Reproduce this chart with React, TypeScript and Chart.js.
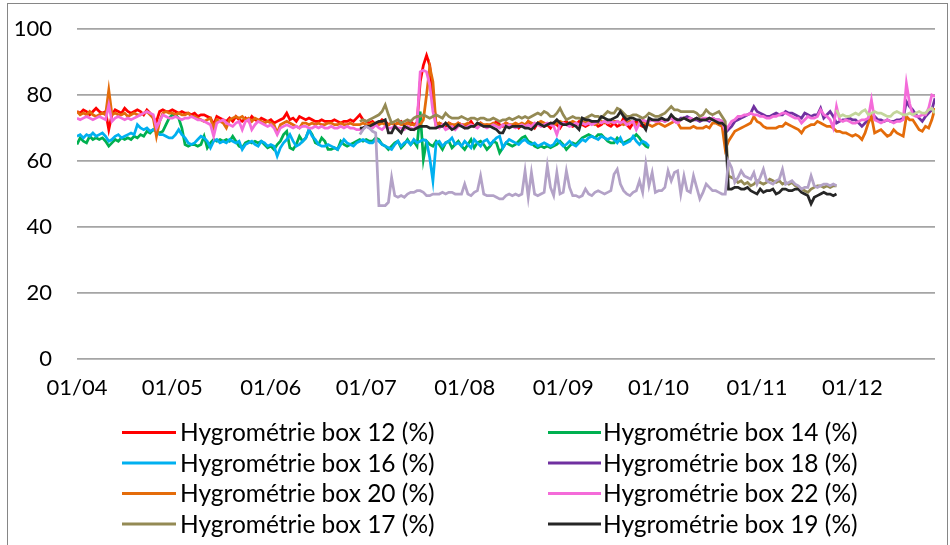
import React, { useEffect, useRef } from 'react';
import { Chart, registerables } from 'chart.js';

Chart.register(...registerables);

// x axis: days counted from 01/04
const xTickDays = [0, 30, 61, 91, 122, 153, 183, 214, 244];
const xTickLabels = ['01/04', '01/05', '01/06', '01/07', '01/08', '01/09', '01/10', '01/11', '01/12'];
const xMaxDay = 270;
const yTickValues = [0, 20, 40, 60, 80, 100];

const seriesLabels = [
  'Hygrométrie box 12 (%)',
  'Hygrométrie box 14 (%)',
  'Hygrométrie box 16 (%)',
  'Hygrométrie box 18 (%)',
  'Hygrométrie box 20 (%)',
  'Hygrométrie box 22 (%)',
  'Hygrométrie box 17 (%)',
  'Hygrométrie box 19 (%)',
  'Hygrométrie box 21 (%)',
  'Hygrométrie box 23 (%)',
];
const legendVisibleCount = 8;

const box12Start = 0;
const box12 = [
  75, 74.5, 75.5, 75, 74, 75, 76, 75, 74.5, 75,
  69.5, 74, 75.5, 75, 74.5, 76, 75, 74.5, 75, 75.5,
  75, 74, 75.5, 74.5, 73, 72, 75, 75.5, 75, 75,
  75.5, 75, 74.5, 75, 74.5, 74.5, 74, 74.5, 73.5, 74,
  74, 73.5, 73, 71, 73.5, 73, 72.5, 72, 73, 72,
  73.5, 72.5, 72, 73, 72, 73.5, 72.5, 72, 73, 72.5,
  72, 72.5, 71.5, 72, 72.5, 73, 74.5, 72.5, 73, 72,
  73.5, 73, 72.5, 73, 72.5, 72, 72, 72.5, 72, 72,
  72, 72.5, 72, 71.5, 72, 72, 72.5, 72, 73, 74,
  72.5, 72, 71.5, 72, 71, 71.5, 72.5, 72, 71, 71.5,
  71, 71.5, 72, 71, 71.5, 72, 71, 71.5, 84, 89,
  92, 89, 80, 71, 71.5, 71, 70.5, 71.5, 71, 70,
  71.5, 71, 70.5, 71, 72, 70.5, 71, 71.5, 70.5, 71,
  70.5, 71, 72, 71, 70.5, 71.5, 71, 70.5, 71, 70,
  71, 70.5, 72, 71, 70, 71.5, 71, 70.5, 71, 70,
  71.5, 71, 70, 71.5, 72, 71, 70.5, 71, 72, 71,
  70.5, 71, 72, 71.5, 70.5, 71, 72, 71, 70.5, 71.5,
  70.5, 71, 73, 71, 70, 71.5, 72, 71, 70.5, 71,
];

const box14Start = 0;
const box14 = [
  65, 67, 66, 65.5, 67.5, 66.5, 67, 66.5, 67, 66,
  64.5, 65.5, 66.5, 66, 67, 66.5, 67, 66.5, 67.5, 67,
  68, 67.5, 69, 68.5, 69.5, 69, 68.5, 69, 71, 73,
  74, 74, 73, 70, 65, 64.5, 65, 65, 64.5, 65,
  67.5, 64, 65.5, 66.5, 66, 66.5, 66, 66.5, 66, 67.5,
  66, 64.5, 64, 65.5, 66, 65.5, 66, 65.5, 66, 65,
  64, 64.5, 63.5, 65, 66, 68, 69, 64, 63.5, 65,
  67.5, 66, 67, 69.5, 68, 65.5, 65, 67, 66, 63.5,
  63.5, 64, 63.5, 66, 65, 64.5, 65, 65.5, 66, 66.5,
  66, 66.5, 66, 66, 67, 66.5, 65, 64.5, 63.5, 64.5,
  65.5, 66, 64, 65, 66.5, 65, 66, 64.5, 75, 60.5,
  66, 65, 64.5, 66, 65, 63.5, 65.5, 66, 64, 65,
  66, 64.5, 63.5, 65, 66.5, 64, 65.5, 66, 65, 63.5,
  64.5, 66, 65.5, 62.5, 64, 65.5, 65, 64.5, 65, 66,
  67, 67.5, 66, 65.5, 64.5, 64, 64.5, 64, 64.5, 64,
  64.5, 65, 66, 65, 63.5, 64.5, 65.5, 65, 66, 67,
  67.5, 68, 67.5, 67, 68, 68, 67, 66, 65.5, 65.5,
  67, 66, 65.5, 66, 66.5, 67, 68, 67, 65.5, 64.5, 64,
];

const box16Start = 0;
const box16 = [
  67.5, 68, 67, 68, 67.5, 68.5, 67.5, 68, 68.5, 67.5,
  66, 66.5, 67.5, 68, 67, 67.5, 68, 68.5, 68, 71,
  70, 69.5, 70, 69, 69.5, 69, 68, 68, 67.5, 67,
  67, 68, 69.5, 68, 67, 65.5, 65, 65.5, 66.5, 67.5,
  67, 66, 64, 66, 66.5, 65.5, 66, 65.5, 66.5, 66,
  65.5, 66, 63.5, 65, 65.5, 66, 65, 64.5, 66, 65.5,
  64.5, 65, 64.5, 61.5, 64, 65.5, 66.5, 68, 66, 64.5,
  65, 66, 67, 69.5, 67.5, 66.5, 65, 64.5, 64.5, 65,
  64.5, 64, 63.5, 65, 66.5, 65.5, 65, 64.5, 65.5, 66,
  66.5, 66, 65.5, 65.5, 66.5, 66, 65, 64.5, 64, 63.5,
  65, 66, 64.5, 65.5, 66, 65, 66.5, 65.5, 66, 66.5,
  66, 61, 54, 65.5, 66, 64.5, 65.5, 66, 67, 65,
  65.5, 64.5, 66, 65, 64, 66.5, 65.5, 64.5, 66, 66.5,
  65, 66, 67, 67.5, 64, 65.5, 66.5, 66, 65.5, 65,
  66, 66.5, 65.5, 65, 65.5, 64.5, 65, 65.5, 65, 64.5,
  65, 66.5, 65.5, 64.5, 65, 66, 65, 64.5, 65.5, 66.5,
  66, 67, 67.5, 67, 66.5, 67.5, 67, 66.5, 67, 66.5,
  65.5, 67, 65, 65.5, 66, 67.5, 66, 65, 66, 65.5, 64.5,
];

const box18Start = 183;
const box18 = [
  72, 72.5, 72, 72.5, 73, 72.5, 72,
  73, 73, 73.5, 73, 72.5, 72.5, 72, 72.5, 72.5, 72,
  73, 72.5, 72.5, 72, 68.5, 69.5, 70.5, 72, 72.5, 73,
  73.5, 74, 74.5, 76.5, 75, 74.5, 74, 73.5, 73.5, 74,
  74.5, 74, 74, 75, 74.5, 74.5, 74, 73.5, 73, 74.5,
  74, 73.5, 74, 74, 76, 73, 74, 75, 73.5, 71.5,
  72, 72.5, 72.5, 73, 72.5, 72.5, 71.5, 70.5, 71.5, 72.5,
  73, 73.5, 72.5, 72.5, 72, 72.5, 72, 72, 72.5, 72.5,
  73, 78, 76.5, 75.5, 74, 73, 72, 73.5, 74.5, 75.5, 79,
];

const box20Start = 0;
const box20 = [
  75, 74, 74.5, 74, 75, 74, 73.5, 74, 74.5, 74,
  81.5, 74, 74.5, 74, 74, 74.5, 73.5, 74, 74.5, 74,
  74, 74.5, 75, 74, 73, 67.5, 72, 74.5, 75, 74.5,
  74.5, 74, 74.5, 74, 74, 74.5, 73.5, 73.5, 73, 72.5,
  72, 72.5, 73, 70, 72.5, 72, 71.5, 70, 72.5, 73,
  73.5, 73, 73.5, 72.5, 73, 72, 73, 72.5, 72, 71.5,
  72, 71.5, 71, 68.5, 71, 71.5, 72, 71.5, 71, 70.5,
  70, 71.5, 71.5, 71, 71.5, 71, 71.5, 71, 71, 71.5,
  71.5, 71, 71, 71.5, 71, 71, 71.5, 71, 71, 71,
  71.5, 71, 71, 71.5, 71, 71, 71.5, 71, 71, 71.5,
  71, 71.5, 71, 71, 71.5, 71, 71, 71, 71, 72.5,
  80, 88.5, 84, 71, 71.5, 71, 71, 71.5, 71, 71,
  71.5, 71, 71, 71.5, 71, 70.5, 71, 71.5, 71, 71,
  71, 71.5, 71, 70.5, 71, 71.5, 71, 71, 71.5, 71,
  71.5, 71, 72, 71.5, 71, 71.5, 72, 71.5, 71, 71.5,
  71, 71.5, 72, 71.5, 71, 71.5, 72, 71.5, 71, 72,
  71.5, 72, 71.5, 71, 71.5, 72, 71.5, 72, 71.5, 72,
  72, 71.5, 71, 71.5, 72, 71.5, 71, 71.5, 72, 71.5,
  71, 70.5, 71, 71.5, 71, 70.5, 71, 71.5, 72, 71.5,
  70, 70, 70, 70, 70.5, 70, 70, 70, 70.5, 70,
  71.5, 71.5, 71, 70.5, 63.5, 66, 67.5, 69, 69.5, 70,
  70.5, 71, 71.5, 73.5, 72, 71.5, 70.5, 70, 70, 70,
  70, 70.5, 70.5, 71.5, 71, 70.5, 70, 69.5, 68.5, 70,
  70.5, 71, 71, 72, 71.5, 71, 70.5, 70.5, 70, 69,
  69, 68.5, 68.5, 68, 67.5, 68, 67.5, 66.5, 68.5, 71.5,
  73.5, 68.5, 69, 69.5, 68.5, 67.5, 68, 69.5, 68.5, 68,
  67.5, 73.5, 72.5, 72.5, 71, 69.5, 69, 70.5, 70, 72.5, 76,
];

const box22Start = 0;
const box22 = [
  73, 72.5, 73, 73.5, 73, 72.5, 73, 73.5, 73, 72.5,
  77, 72, 73, 73.5, 73, 72.5, 73, 72.5, 73, 73.5,
  74, 74.5, 75, 74.5, 74, 70, 72, 74, 73.5, 73,
  73, 73.5, 73, 72.5, 73, 73, 73.5, 73, 72.5, 72.5,
  72, 71.5, 71, 67.5, 71.5, 72, 72.5, 71.5, 71, 70.5,
  71.5, 72, 69.5, 72, 72.5, 69.5, 71, 72, 71.5, 71,
  70.5, 71, 70, 68, 70, 70.5, 71, 70.5, 70, 70.5,
  70, 70.5, 70.5, 70, 70, 70.5, 70, 70.5, 70, 70,
  70.5, 70, 70, 70.5, 70, 70.5, 70, 70, 69.5, 69.5,
  70, 70.5, 70, 70, 71, 70, 69.5, 70.5, 70, 70,
  70.5, 70, 70, 69.5, 70.5, 70, 69.5, 71, 87, 87.5,
  87, 83, 75, 70.5, 70, 71, 69.5, 70, 70.5, 69.5,
  70.5, 71, 70, 70.5, 71, 70.5, 70, 71, 70.5, 70,
  70.5, 71, 70.5, 70, 71, 70.5, 71, 70.5, 70, 70.5,
  71, 70.5, 71, 70.5, 71.5, 71, 70.5, 71, 71.5, 71,
  70.5, 68, 71, 71.5, 71, 70.5, 71, 71.5, 71, 71.5,
  71, 71.5, 71, 71.5, 72, 71.5, 72, 71.5, 72, 71.5,
  72, 71.5, 72, 71, 71.5, 72, 69.5, 71.5, 72.5, 72,
  72, 72.5, 72, 72, 72.5, 72, 72.5, 73, 72, 71.5,
  72.5, 73, 72.5, 73, 72.5, 73, 72.5, 73, 73, 72.5,
  73, 72.5, 72.5, 72, 69, 70.5, 72, 72.5, 73.5, 73.5,
  74, 74, 74.5, 74, 74, 73.5, 73.5, 73, 73, 73.5,
  73.5, 74, 74.5, 74.5, 74, 73.5, 73, 73, 71.5, 72.5,
  73.5, 73, 73, 73.5, 75.5, 74, 73.5, 72.5, 70, 76.5,
  72.5, 72, 72.5, 72, 71.5, 71.5, 72, 72.5, 72.5, 73,
  78.5, 72.5, 72, 71.5, 72, 72.5, 72, 71.5, 72, 72,
  72.5, 83.5, 77.5, 74, 73.5, 73.5, 74, 74, 76, 80, 79.5,
];

const box17Start = 89;
const box17 = [
  72, 72.5, 72, 72.5, 73, 73.5, 74, 75, 77, 74, 71.5,
  72, 72.5, 71.5, 72, 72.5, 72, 73, 73.5, 73.5, 74,
  73.5, 73, 73.5, 74, 73.5, 73, 74.5, 73.5, 73, 73,
  73, 73.5, 73, 72.5, 73, 73, 72.5, 73, 73, 72.5,
  72.5, 73, 72.5, 72, 72.5, 72.5, 73, 72.5, 73, 73.5,
  73, 73.5, 73, 73.5, 74, 74.5, 74, 75, 74.5, 73.5,
  73.5, 74.5, 76, 74, 72.5, 73, 73.5, 73, 73, 72.5,
  73, 73.5, 74, 73.5, 73.5, 73, 74, 75, 74.5, 74.5,
  76, 75.5, 74.5, 73.5, 73.5, 74, 74, 73.5, 73, 73.5,
  74.5, 74, 73.5, 73.5, 74, 74.5, 75.5, 76.5, 75.5, 75.5,
  75, 75, 75, 75, 75, 74.5, 73.5, 74, 75.5, 74.5,
  74, 74.5, 75, 73.5, 72, 55.5, 55, 54.5, 53.5, 54,
  53, 53.5, 52.5, 53, 54, 53.5, 53, 53.5, 54.5, 54,
  53.5, 54, 53, 53.5, 53, 53.5, 52.5, 52, 51.5, 51,
  50.5, 51.5, 52, 52.5, 52.5, 52, 52.5, 52, 52.5, 52.5,
];

const box19Start = 89;
const box19 = [
  70, 70, 70.5, 70.5, 71, 71.5, 72, 72, 72.5, 68.5, 68.5,
  70.5, 69.5, 68.5, 70.5, 70, 69.5, 69.5, 70, 70.5, 70.5,
  70.5, 70, 70, 70, 70.5, 70.5, 71.5, 70.5, 69.5, 70,
  71, 70.5, 70, 70, 70.5, 70.5, 71.5, 71, 70.5, 70.5,
  70.5, 70, 69.5, 68.5, 68.5, 70.5, 70, 70.5, 70.5, 70.5,
  70.5, 70, 70, 69.5, 70.5, 71.5, 71, 70.5, 71, 71.5,
  71.5, 72.5, 71.5, 71, 71, 71.5, 71, 70.5, 69.5, 73,
  72.5, 72.5, 72, 72, 72, 73.5, 73, 72.5, 72.5, 73,
  73.5, 75, 73.5, 72.5, 73, 73, 72.5, 72.5, 71, 69.5,
  73, 72.5, 72.5, 72.5, 73, 72.5, 72.5, 74, 73, 72.5,
  72.5, 73, 72.5, 72, 72.5, 73, 72.5, 72.5, 72.5, 73,
  72.5, 72, 71.5, 71.5, 70.5, 51.5, 51.5, 52, 52, 51.5,
  51.5, 52, 51, 50.5, 50, 51.5, 50.5, 51, 51, 51.5,
  50, 50.5, 51.5, 51.5, 51, 51, 51.5, 51.5, 50.5, 50,
  49.5, 47, 49, 49.5, 50, 50.5, 50, 50, 49.5, 50,
];

const box21Start = 89;
const box21 = [
  68, 69.5, 70.5, 70, 69, 68.5, 46.5, 46.5, 46.5, 47.5, 55,
  49.5, 49, 49.5, 49, 50, 50.5, 50.5, 51, 51, 50.5,
  49.5, 49.5, 50, 50, 50, 50.5, 50, 50.5, 50.5, 50,
  50, 50, 53, 50, 49.5, 50.5, 51, 55.5, 50, 49.5,
  49.5, 49.5, 49, 48.5, 48.5, 49.5, 50, 49.5, 50, 49.5,
  50, 57, 49, 56.5, 50, 49.5, 50, 50.5, 58.5, 52,
  49.5, 56.5, 50, 50.5, 57, 52, 49.5, 49.5, 49, 49.5,
  51.5, 50, 49.5, 50.5, 51, 50.5, 50, 50.5, 51, 56,
  57.5, 53, 51, 50, 49.5, 50.5, 51, 54, 50.5, 59,
  52.5, 56.5, 50.5, 51, 51, 52, 57, 54, 56.5, 57,
  50, 55.5, 51, 50.5, 55.5, 52, 48.5, 50.5, 53, 52,
  51, 51, 50.5, 50, 50, 60, 58, 53.5, 55, 57,
  55.5, 55, 54.5, 56.5, 53, 55, 57.5, 54, 53.5, 53,
  54, 54.5, 57.5, 53, 53.5, 54, 53, 52.5, 51.5, 52,
  52, 55.5, 52.5, 52, 52.5, 53, 53, 52.5, 53, 52.5,
];

const box23Start = 239;
const box23 = [
  75.5, 73.5, 74, 73.5, 73.5, 74, 74.5, 74, 75, 75.5, 74,
  74.5, 75, 74.5, 74.5, 74, 73.5, 73.5, 74.5, 75, 74.5,
  74, 74, 74.5, 74, 74.5, 75, 74.5, 74.5, 75.5, 76, 74.5,
];

const seriesColors = [
  '#FF0000', '#00B050', '#00B0F0', '#7030A0', '#E46C0A',
  '#F46BD9', '#948A54', '#262626', '#B3A2C7', '#C3D69B',
];

const FONT = 'Lato, "Open Sans", sans-serif';
const TICK_FONT_SIZE = 22;
const LEGEND_FONT_SIZE = 24.5;

export default function App() {
  const ref = useRef<HTMLCanvasElement | null>(null);

  useEffect(() => {
    const canvas = ref.current;
    if (!canvas) return;
    const starts = [box12Start, box14Start, box16Start, box18Start, box20Start, box22Start, box17Start, box19Start, box21Start, box23Start];
    const values = [box12, box14, box16, box18, box20, box22, box17, box19, box21, box23];
    const n = values.length;

    const datasets = values.map((vals, i) => ({
      label: seriesLabels[i],
      data: vals.map((v, k) => ({ x: starts[i] + k, y: v })),
      borderColor: seriesColors[i],
      backgroundColor: seriesColors[i],
      borderWidth: 2.75,
      pointRadius: 0,
      pointHoverRadius: 0,
      tension: 0,
      fill: false,
      order: n - i,
    }));

    const framePlugin = {
      id: 'frame',
      beforeDraw(chart: any) {
        const ctx = chart.ctx;
        ctx.save();
        ctx.fillStyle = '#ffffff';
        ctx.fillRect(0, 0, chart.width, chart.height);
        ctx.strokeStyle = '#868686';
        ctx.lineWidth = 1;
        ctx.strokeRect(7.5, 3.5, 940, 600);
        ctx.restore();
      },
    };

    const legendPlugin = {
      id: 'twoColLegend',
      afterDraw(chart: any) {
        const ctx = chart.ctx;
        ctx.save();
        ctx.font = `${LEGEND_FONT_SIZE}px ${FONT}`;
        ctx.textBaseline = 'middle';
        ctx.textAlign = 'left';
        const rowTop = 432.5;
        const rowH = 30.5;
        const cols = [
          { x0: 122, x1: 176, tx: 180 },
          { x0: 548, x1: 601, tx: 603 },
        ];
        chart.data.datasets.slice(0, legendVisibleCount).forEach((ds: any, i: number) => {
          const row = Math.floor(i / 2);
          const c = cols[i % 2];
          const y = rowTop + row * rowH;
          ctx.strokeStyle = ds.borderColor;
          ctx.lineWidth = 3;
          ctx.beginPath();
          ctx.moveTo(c.x0, y);
          ctx.lineTo(c.x1, y);
          ctx.stroke();
          ctx.fillStyle = '#000000';
          ctx.fillText(ds.label, c.tx, y + 1);
        });
        ctx.restore();
      },
    };

    const chart = new Chart(canvas, {
      type: 'line',
      data: { datasets },
      options: {
        responsive: false,
        animation: false,
        devicePixelRatio: 1,
        events: [],
        layout: { padding: { left: 0, right: 15, top: 29, bottom: 146 } },
        plugins: {
          legend: { display: false },
          tooltip: { enabled: false },
        },
        scales: {
          x: {
            type: 'linear',
            min: 0,
            max: xMaxDay,
            grid: { display: false, drawTicks: false },
            border: { display: false },
            afterBuildTicks: (scale: any) => {
              scale.ticks = xTickDays.map((v) => ({ value: v }));
            },
            afterFit: (scale: any) => {
              scale.height = 40;
            },
            ticks: {
              autoSkip: false,
              maxRotation: 0,
              padding: 16,
              color: '#000000',
              font: { family: FONT, size: TICK_FONT_SIZE },
              callback: (value: any) => {
                const idx = xTickDays.indexOf(Number(value));
                return idx >= 0 ? xTickLabels[idx] : '';
              },
            },
          },
          y: {
            min: 0,
            max: 100,
            afterBuildTicks: (scale: any) => {
              scale.ticks = yTickValues.map((v) => ({ value: v }));
            },
            afterFit: (scale: any) => {
              scale.width = 77;
              scale.paddingTop = 13;
              scale.paddingBottom = 13;
            },
            grid: { color: '#a5a5a5', lineWidth: 1.8, drawTicks: false },
            border: { display: false },
            ticks: {
              padding: 25,
              color: '#000000',
              font: { family: FONT, size: TICK_FONT_SIZE },
            },
          },
        },
      },
      plugins: [framePlugin, legendPlugin],
    });

    return () => chart.destroy();
  }, []);

  return (
    <div style={{ position: 'absolute', left: 0, top: 0, width: 950, height: 545, background: '#fff' }}>
      <canvas ref={ref} width={950} height={545} style={{ display: 'block', width: 950, height: 545 }} />
    </div>
  );
}
